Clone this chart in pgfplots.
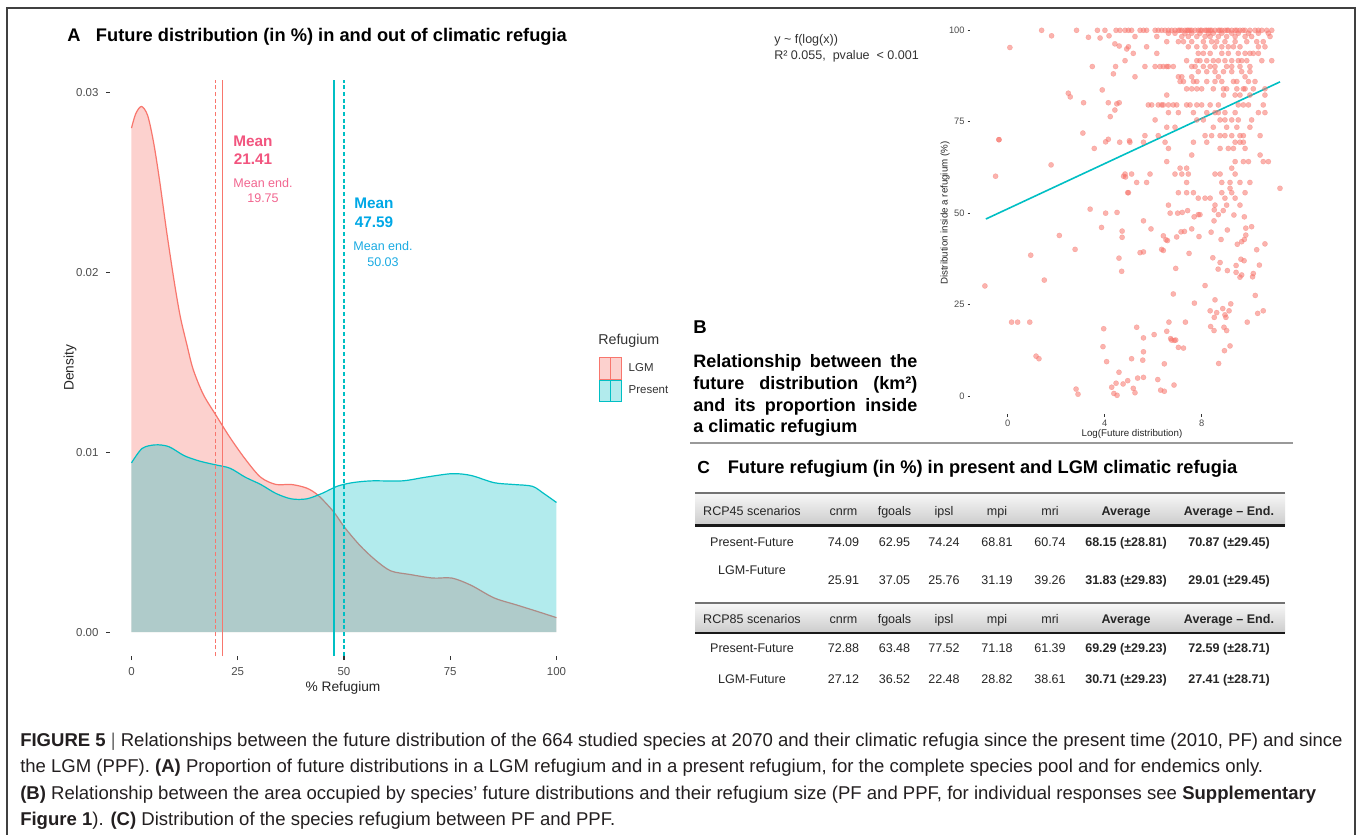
\documentclass[border=0pt]{standalone}
\usepackage{fontspec}
\setmainfont{Liberation Sans}
\usepackage{pgfplots}
\usepackage{pgfplotstable}
\pgfplotsset{compat=1.18}
\usetikzlibrary{shadings}
\definecolor{lgm}{HTML}{F8766D}
\definecolor{pres}{HTML}{00BFC4}
\definecolor{mpink}{HTML}{F2557F}
\definecolor{mpinkl}{HTML}{F26690}
\definecolor{mblue}{HTML}{00A8E6}
\definecolor{mbluel}{HTML}{1AABE3}
\definecolor{tickgray}{HTML}{333333}
\definecolor{labgray}{HTML}{4D4D4D}
\definecolor{captxt}{HTML}{231F20}
\newcommand\fs[1]{\fontsize{#1}{#1}\selectfont}

\pgfplotstableread{
x y
0 0.0280
1 0.0288
2.35 0.0292
3.8 0.0287
5.2 0.0272
6.6 0.0251
8.3 0.0222
10.1 0.0194
11.5 0.0175
13.0 0.0160
14.5 0.0146
16.9 0.0132
20.0 0.0120
23.2 0.0108
26.8 0.0096
30.4 0.0086
34.0 0.0082
37.6 0.0082
41.2 0.0080
43.9 0.0076
47.5 0.0067
50.2 0.0058
53.8 0.0048
57.4 0.0040
61.0 0.0034
65.5 0.0032
70.9 0.0030
75.4 0.0030
79.9 0.0026
85.3 0.0019
90.7 0.0015
96.1 0.0011
100 0.0008
}\lgmdata

\pgfplotstableread{
x y
0 0.0094
2.5 0.0102
5.6 0.0104
8.8 0.0103
12.4 0.0098
16.0 0.0095
19.6 0.0093
23.2 0.0091
26.8 0.0086
30.4 0.0082
34.0 0.0077
37.6 0.0074
41.2 0.0074
44.8 0.0077
48.4 0.0081
52.0 0.0083
56.5 0.0084
63.7 0.0084
69.1 0.0086
75.4 0.0088
79.9 0.0087
85.3 0.0083
89.8 0.0082
94.3 0.0081
97.0 0.0077
100 0.0072
}\presdata

\begin{document}
\begin{tikzpicture}
\begin{scope}[x=0.75pt,y=-0.75pt]
\useasboundingbox (0,0) rectangle (1357,835);
\fill[white] (0,0) rectangle (1357,835);
\draw[line width=1.1pt, draw=black!75] (7,8) rectangle (1355,850);

% ---------- Panel A title
\node[anchor=base west, font=\bfseries\fs{13.7pt}, inner sep=0] at (67,41.5) {A};
\node[anchor=base west, font=\bfseries\fs{13.7pt}, inner sep=0] at (95.7,41.5) {Future distribution (in \%) in and out of climatic refugia};
\end{scope}

% ---------- Panel A axis
\begin{axis}[
  at={(82.6875pt,-492pt)}, anchor=south west, scale only axis,
  width=350.6pt, height=432pt,
  xmin=-5, xmax=105, ymin=-0.00133, ymax=0.03067,
  axis x line*=bottom, axis y line*=left, axis line style={draw=none},
  xtick={0,25,50,75,100}, xticklabels={0,25,50,75,100},
  ytick={0,0.01,0.02,0.03}, yticklabels={0.00,0.01,0.02,0.03},
  scaled y ticks=false,
  tick align=outside, major tick length=3pt,
  tick style={draw=tickgray, line width=0.8pt},
  ticklabel style={font=\fs{8.6pt}, text=labgray},
  yticklabel style={xshift=-2.3pt},
  xticklabel style={yshift=-2.4pt},
  xlabel={\% Refugium}, ylabel={Density},
  label style={font=\fs{10.3pt}, text=black!85},
  x label style={at={(axis description cs:0.498,-0.055)}, anchor=center},
  y label style={at={(axis description cs:-0.0861,0.5)}, anchor=center},
  clip=false,
  legend style={at={(1.0455,0.519)}, anchor=north west, draw=none, fill=none,
    inner sep=0pt, row sep=0pt, font=\fs{8.6pt}, text=black!80,
    nodes={inner sep=0pt}},
  legend cell align=left,
]
\addplot[draw=none, fill=lgm, fill opacity=0.33, smooth, tension=0.5, forget plot] table[x=x,y=y] {\lgmdata} \closedcycle;
\addplot[color=lgm, solid, line width=0.9pt, smooth, tension=0.5, forget plot] table[x=x,y=y] {\lgmdata};
\addplot[draw=none, fill=pres, fill opacity=0.30, smooth, tension=0.5, forget plot] table[x=x,y=y] {\presdata} \closedcycle;
\addplot[color=pres, solid, line width=0.9pt, smooth, tension=0.5, forget plot] table[x=x,y=y] {\presdata};
\addplot[color=lgm, solid, line width=1.15pt, mark=none, forget plot] coordinates {(21.41,-0.00133) (21.41,0.03067)};
\addplot[color=lgm, line width=1.25pt, mark=none, dash pattern=on 3pt off 2pt, forget plot] coordinates {(19.75,-0.00133) (19.75,0.03067)};
\addplot[color=pres, solid, line width=1.15pt, mark=none, forget plot] coordinates {(47.59,-0.00133) (47.59,0.03067)};
\addplot[color=pres, line width=1.25pt, mark=none, dash pattern=on 3pt off 2pt, forget plot] coordinates {(50.03,-0.00133) (50.03,0.03067)};
\addlegendimage{legend image code/.code={
  \draw[draw=lgm, fill=lgm, fill opacity=0.33, line width=0.6pt] (0pt,-8pt) rectangle (16.5pt,8pt);
  \draw[lgm, line width=0.8pt] (8.25pt,-8pt) -- (8.25pt,8pt);}}
\addlegendentry{\hspace{5pt}LGM}
\addlegendimage{legend image code/.code={
  \draw[draw=pres, fill=pres, fill opacity=0.30, line width=0.6pt] (0pt,-8pt) rectangle (16.5pt,8pt);
  \draw[pres, line width=0.8pt] (8.25pt,-8pt) -- (8.25pt,8pt);}}
\addlegendentry{\hspace{5pt}Present}
\end{axis}

% ---------- Panel B axis
\begin{axis}[
  at={(727.575pt,-310.725pt)}, anchor=south west, scale only axis,
  width=243.5pt, height=301.7pt,
  xmin=-1.55, xmax=11.84, ymin=-5, ymax=105,
  axis x line*=bottom, axis y line*=left, axis line style={draw=none},
  xtick={0,4,8}, xticklabels={0,4,8},
  ytick={0,25,50,75,100}, yticklabels={0,25,50,75,100},
  tick align=outside, major tick length=1.8pt,
  tick style={draw=tickgray, line width=0.6pt},
  ticklabel style={font=\fs{7pt}, text=labgray},
  xticklabel style={yshift=0.9pt},
  yticklabel style={xshift=1.2pt},
  xlabel={Log(Future distribution)}, ylabel={Distribution inside a refugium (\%)},
  label style={font=\fs{7.3pt}, text=black!85},
  x label style={at={(axis description cs:0.4986,-0.05)}, anchor=center},
  y label style={at={(axis description cs:-0.0773,0.5)}, anchor=center},
  clip=false,
]
\addplot[only marks, mark=*, color=lgm, mark size=1.95pt, opacity=0.55, mark options={solid, line width=0.2pt}] coordinates {
(1.40,100) (1.81,98.5) (2.84,100) (3.33,98.1) (3.70,100) (3.81,97.9) (4.01,100) (4.18,98.5) (4.47,100) (4.63,100)
(0.09,95.3) (4.42,96.3) (4.60,95.7) (4.91,94.9) (3.49,90.1) (4.45,90.1) (4.36,88.1) (3.90,83.7) (2.50,82.8) (2.58,81.8)
(3.13,80.2) (4.15,80.2) (4.50,79.9) (4.60,80.2) (4.42,78.2) (4.23,76.4) (3.10,71.9) (-0.36,70.1) (-0.36,70.1) (4.15,70.2)
(4.04,69.5) (4.62,69.4) (5.02,69.8) (3.57,67.7) (1.79,63.2) (-0.50,60.1) (4.78,60.1) (4.86,59.9) (4.95,55.6) (3.40,51.1)
(4.04,50.0) (4.51,50.2)
(3.87,46.1) (4.72,45.1) (4.72,43.4) (2.13,43.9) (2.78,40.1) (0.95,38.5) (4.59,37.7) (4.70,34.1) (1.51,31.7) (-0.94,30.1)
(0.16,20.2) (0.41,20.2) (0.91,20.2) (3.96,18.4) (3.93,13.5) (1.17,10.9) (1.29,10.2) (4.08,9.4) (4.59,6.5) (4.29,2.4)
(4.47,3.5) (4.76,3.3) (4.38,0.7) (4.51,0.2) (2.82,1.9) (2.90,0.5)
(4.84,100) (4.98,100) (5.11,100) (5.46,100) (5.60,100) (5.73,100) (6.08,100) (6.21,100) (6.35,100) (6.49,100)
(6.63,100) (6.76,100) (6.90,100) (7.04,100) (7.18,100) (7.31,100) (7.45,100) (7.59,100) (7.73,100) (7.86,100)
(8.00,100) (8.14,100) (8.28,100) (8.41,100) (8.55,100) (8.69,100) (8.83,100) (8.96,100) (9.10,100) (9.24,100)
(9.38,100) (9.58,100) (9.79,100) (9.99,100) (10.20,100) (10.34,100) (10.48,100) (10.68,100) (10.89,100)
(7.10,100) (7.52,100) (7.95,100) (8.35,100) (8.75,100) (9.05,100) (9.45,100) (9.70,100) (8.20,100) (7.40,100)
(6.63,99.2) (6.90,99.2) (7.31,99.2) (7.59,99.2) (7.93,99.2) (8.28,99.2) (8.48,99.2) (8.83,99.2) (9.24,99.2) (9.51,99.2) (9.93,99.2) (10.34,99.2) (10.75,99.2)
(5.25,98.3) (6.15,98.3) (7.18,98.3) (7.45,98.3) (7.80,98.3) (8.14,98.3) (8.35,98.3) (8.69,98.3) (9.03,98.3) (9.38,98.3) (9.79,98.3) (10.06,98.3) (10.82,98.3)
(6.56,96.9) (7.04,96.9) (7.25,96.9) (7.59,96.9) (8.07,96.9) (8.41,96.9) (8.62,96.9) (8.96,96.9) (9.38,96.9) (9.86,96.9) (10.27,96.9) (10.54,96.9)
(4.98,95.5) (5.73,95.5) (7.45,95.5) (7.80,95.5) (8.14,95.5) (8.55,95.5) (8.83,95.5) (9.10,95.5) (9.31,95.5) (9.58,95.5) (10.34,95.5) (10.61,95.5)
(5.18,93.7) (6.15,93.7) (7.86,93.7) (8.07,93.7) (8.35,93.7) (8.83,93.7) (9.10,93.7) (9.51,93.7) (9.79,93.7) (9.99,93.7) (10.13,93.7) (10.34,93.7)
(4.84,91.7) (7.38,91.7) (7.80,91.7) (7.93,91.7) (8.21,91.7) (8.48,91.7) (8.69,91.7) (8.96,91.7) (9.24,91.7) (9.51,91.7) (9.65,91.7) (9.86,91.7) (10.48,91.7) (10.89,91.7)
(5.66,90.1) (6.08,90.1) (6.28,90.1) (6.42,90.1) (6.56,90.1) (6.63,90.1) (6.83,90.1) (7.59,90.1) (7.73,90.1) (8.07,90.1) (8.35,90.1) (8.55,90.1) (9.03,90.1) (9.24,90.1) (9.58,90.1) (9.99,90.1)
(7.86,88.7) (8.21,88.7) (8.55,88.7) (8.90,88.7) (9.24,88.7) (9.65,88.7) (9.99,88.7)
(5.25,87.3) (7.04,87.3) (7.18,87.3) (7.59,87.3) (8.69,87.3) (9.79,87.3)
(7.11,86.0) (7.25,86.0) (7.66,86.0) (7.80,86.0) (8.21,86.0) (8.55,86.0) (8.83,86.0) (9.31,86.0) (9.45,86.0) (9.93,86.0) (10.20,86.0)
(7.38,84.0) (7.59,84.0) (7.80,84.0) (8.00,84.0) (8.48,84.0) (8.90,84.0) (9.03,84.0) (9.45,84.0) (9.72,84.0) (9.79,84.0) (10.13,84.0) (10.61,84.0)
(6.56,82.3) (8.90,82.3) (9.38,82.3) (9.58,82.3) (9.99,82.3) (10.61,82.3)
(5.80,79.6) (5.94,79.6) (6.21,79.6) (6.35,79.6) (6.42,79.6) (6.63,79.6) (6.83,79.6) (6.97,79.6) (7.38,79.6) (7.52,79.6) (7.80,79.6) (8.00,79.6) (8.35,79.6) (8.69,79.6) (9.51,79.6) (9.72,79.6) (9.93,79.6) (10.54,79.6)
(6.63,77.5) (7.04,77.5) (7.66,77.5) (8.21,77.5) (8.55,77.5) (8.69,77.5) (8.96,77.5) (9.38,77.5) (10.34,77.5) (10.61,77.5)
(6.08,75.5) (7.80,75.5) (8.07,75.5) (8.76,75.5) (8.96,75.5) (9.24,75.5) (9.51,75.5) (10.06,75.5)
(6.56,73.5) (6.90,73.5) (8.48,73.5) (9.03,73.5) (9.45,73.5) (9.99,73.5)
(5.66,71.2) (6.21,71.2) (8.14,71.2) (8.41,71.2) (8.76,71.2) (8.96,71.2) (9.24,71.2) (9.58,71.2) (9.72,71.2) (10.41,71.2)
(5.04,69.4) (5.60,69.4) (6.49,69.4) (7.66,69.4) (8.21,69.4) (9.38,69.4) (9.58,69.4) (9.72,69.4)
(6.63,67.7) (8.76,67.7) (9.10,67.7) (9.31,67.7) (9.79,67.7)
(7.59,65.9) (10.41,65.9)
(6.56,64.1) (9.38,64.1) (9.72,64.1) (9.93,64.1) (10.54,64.1) (10.75,64.1)
(7.11,62.3) (7.38,62.3) (9.24,62.3)
(4.84,60.7) (5.11,60.7) (5.87,60.7) (6.90,60.7) (7.18,60.7) (7.45,60.7) (8.55,60.7) (8.76,60.7) (9.38,60.7)
(5.32,58.4) (5.73,58.4) (7.38,58.4) (8.83,58.4) (9.17,58.4) (9.58,58.4) (9.99,58.4)
(11.23,56.8) (9.17,56.8)
(4.98,55.6) (7.04,55.6) (7.38,55.6) (7.66,55.6) (8.83,55.6) (9.24,55.6) (9.79,55.6)
(7.86,54.1) (8.14,54.1) (8.35,54.1) (8.96,54.1) (9.38,54.1)
(6.63,52.2) (8.55,52.2) (9.03,52.2) (9.58,52.2)
(6.70,50.0) (7.01,50.0) (7.20,50.2) (7.42,50.7) (7.69,49.0) (7.86,49.6) (7.93,49.6) (8.52,50.9) (8.69,49.6) (8.89,50.7)
(9.33,49.5) (9.76,49.0) (5.60,47.9) (5.91,45.7) (6.42,43.8) (6.53,42.7) (6.59,42.5) (6.97,43.5) (7.15,44.9) (7.29,45.0)
(7.59,45.7) (7.89,43.6) (8.39,44.8) (8.51,47.9) (8.80,42.8) (9.06,45.4) (9.47,41.5) (9.65,42.2) (9.76,42.8) (9.82,44.0)
(9.82,45.9) (10.06,46.3) (10.61,41.6) (10.27,40.0) (5.46,39.2) (5.60,39.4) (6.35,40.1) (6.42,39.8) (7.48,39.0) (8.46,37.8)
(8.76,36.5) (8.68,34.7) (9.06,34.3) (9.42,35.7) (9.42,33.8) (9.62,37.4) (9.75,37.0) (9.58,32.5) (9.65,33.1) (10.10,32.6)
(10.13,33.5) (10.38,35.8) (6.93,34.9) (8.14,30.2) (6.83,27.9) (7.70,25.4) (8.55,26.3) (8.35,23.3) (8.62,22.8) (8.87,23.9)
(9.13,23.3) (9.20,25.2) (8.52,21.5) (8.96,22.2) (9.00,21.5) (10.21,27.5) (10.31,22.6) (10.54,23.3) (9.88,20.2) (7.33,20.2)
(6.65,20.2) (5.32,18.8) (6.56,17.7) (6.04,16.8) (5.60,15.9) (6.72,15.7) (6.76,15.3) (6.87,15.2) (6.93,15.3) (7.04,13.3)
(7.25,13.1) (8.37,19.0) (8.51,17.9) (8.92,18.8) (9.03,17.9) (9.17,13.7) (8.94,12.4) (8.70,8.9) (5.11,10.2) (5.60,12.1)
(5.57,9.8) (6.46,8.8) (4.95,4.2) (5.36,4.9) (5.60,5.1) (6.19,4.5) (5.18,2.1) (5.25,0.9) (6.31,1.6) (6.46,1.3) (6.86,3.0)
};
\addplot[color=pres, solid, mark=none, line width=1.2pt] coordinates {(-0.9,48.4) (11.23,85.9)};
\end{axis}

\begin{scope}[x=0.75pt,y=-0.75pt]
\node[anchor=base west, font=\fs{10.7pt}, text=black!80, inner sep=0] at (598,344) {Refugium};

% mean annotations
\node[anchor=base, font=\bfseries\fs{11.5pt}, text=mpink, inner sep=0] at (253,146.5) {Mean};
\node[anchor=base, font=\bfseries\fs{11.5pt}, text=mpink, inner sep=0] at (253,164.5) {21.41};
\node[anchor=base, font=\fs{9.4pt}, text=mpinkl, inner sep=0] at (263,187.5) {Mean end.};
\node[anchor=base, font=\fs{9.4pt}, text=mpinkl, inner sep=0] at (263,202.5) {19.75};
\node[anchor=base, font=\bfseries\fs{11.5pt}, text=mblue, inner sep=0] at (374,208.5) {Mean};
\node[anchor=base, font=\bfseries\fs{11.5pt}, text=mblue, inner sep=0] at (374,227.5) {47.59};
\node[anchor=base, font=\fs{9.4pt}, text=mbluel, inner sep=0] at (383,250.5) {Mean end.};
\node[anchor=base, font=\fs{9.4pt}, text=mbluel, inner sep=0] at (383,266.5) {50.03};

% ---------- Panel B texts
\node[anchor=base west, font=\fs{9.4pt}, text=black!80, inner sep=0] at (774,43) {y \textasciitilde\ f(log(x))};
\node[anchor=base west, font=\fs{9.4pt}, text=black!80, inner sep=0] at (774,59) {R² 0.055, \ pvalue \ < 0.001};
\node[anchor=base west, font=\bfseries\fs{13.9pt}, inner sep=0] at (693,333.6) {B};
\begin{scope}[every node/.style={anchor=base west, font=\bfseries\fs{13.5pt}, inner sep=0}]
\node at (693,367) {\makebox[168pt][s]{Relationship between the}};
\node at (693,389) {\makebox[168pt][s]{future distribution (km²)}};
\node at (693,411.7) {\makebox[168pt][s]{and its proportion inside}};
\node at (693,432.7) {a climatic refugium};
\end{scope}
\draw[black!40, line width=1.1pt] (690,443) -- (1293,443);

% ---------- Panel C
\node[anchor=base west, font=\bfseries\fs{13.1pt}, inner sep=0] at (697,473) {C};
\node[anchor=base west, font=\bfseries\fs{13.7pt}, inner sep=0] at (727.5,473) {Future refugium (in \%) in present and LGM climatic refugia};

\shade[top color=black!3, bottom color=black!20] (695,493) rectangle (1285,525);
\draw[black!55, line width=1.2pt] (695,492.7) -- (1285,492.7);
\draw[black!90, line width=2pt] (695,525.5) -- (1285,525.5);
\shade[top color=black!3, bottom color=black!20] (695,603.5) rectangle (1285,632.5);
\draw[black!55, line width=1.2pt] (695,603) -- (1285,603);
\draw[black!90, line width=2pt] (695,633) -- (1285,633);

\begin{scope}[every node/.style={anchor=base, font=\fs{9.4pt}, inner sep=0, text=black!85}]
\foreach \yy/\lab in {515/RCP45, 623.5/RCP85} {
  \node at (752,\yy) {\lab\ scenarios};
  \node at (843.5,\yy) {cnrm};
  \node at (894.5,\yy) {fgoals};
  \node at (944,\yy) {ipsl};
  \node at (997,\yy) {mpi};
  \node at (1050,\yy) {mri};
  \node[font=\bfseries\fs{9.4pt}] at (1126,\yy) {Average};
  \node[font=\bfseries\fs{9.4pt}] at (1229,\yy) {Average – End.};
}
\node at (752,546) {Present-Future};
\node at (843.5,546) {74.09}; \node at (894.5,546) {62.95}; \node at (944,546) {74.24};
\node at (997,546) {68.81}; \node at (1050,546) {60.74};
\node[font=\bfseries\fs{9.4pt}] at (1126,546) {68.15 (±28.81)};
\node[font=\bfseries\fs{9.4pt}] at (1229,546) {70.87 (±29.45)};
\node at (752,574.5) {LGM-Future};
\node at (843.5,584) {25.91}; \node at (894.5,584) {37.05}; \node at (944,584) {25.76};
\node at (997,584) {31.19}; \node at (1050,584) {39.26};
\node[font=\bfseries\fs{9.4pt}] at (1126,584) {31.83 (±29.83)};
\node[font=\bfseries\fs{9.4pt}] at (1229,584) {29.01 (±29.45)};
\node at (752,652.5) {Present-Future};
\node at (843.5,652.5) {72.88}; \node at (894.5,652.5) {63.48}; \node at (944,652.5) {77.52};
\node at (997,652.5) {71.18}; \node at (1050,652.5) {61.39};
\node[font=\bfseries\fs{9.4pt}] at (1126,652.5) {69.29 (±29.23)};
\node[font=\bfseries\fs{9.4pt}] at (1229,652.5) {72.59 (±28.71)};
\node at (752,683.5) {LGM-Future};
\node at (843.5,683.5) {27.12}; \node at (894.5,683.5) {36.52}; \node at (944,683.5) {22.48};
\node at (997,683.5) {28.82}; \node at (1050,683.5) {38.61};
\node[font=\bfseries\fs{9.4pt}] at (1126,683.5) {30.71 (±29.23)};
\node[font=\bfseries\fs{9.4pt}] at (1229,683.5) {27.41 (±28.71)};
\end{scope}

% ---------- Caption
\begin{scope}[every node/.style={anchor=base west, font=\fs{13.9pt}, inner sep=0, text=captxt}]
\node at (20,746) {\textbf{FIGURE 5} {\color{black!60}|} Relationships between the future distribution of the 664 studied species at 2070 and their climatic refugia since the present time (2010, PF) and since};
\node at (20,772) {the LGM (PPF). \textbf{(A)} Proportion of future distributions in a LGM refugium and in a present refugium, for the complete species pool and for endemics only.};
\node at (20,799) {\textbf{(B)} Relationship between the area occupied by species' future distributions and their refugium size (PF and PPF, for individual responses see \textbf{Supplementary}};
\node at (20,825) {\textbf{Figure 1}). \textbf{(C)} Distribution of the species refugium between PF and PPF.};
\end{scope}
\end{scope}
\end{tikzpicture}
\end{document}
